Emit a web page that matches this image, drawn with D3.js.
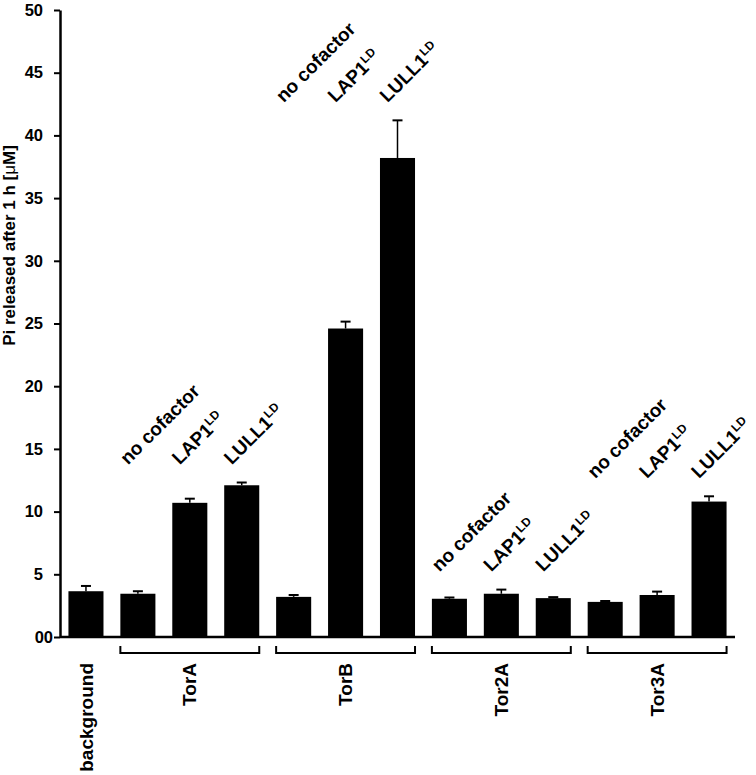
<!DOCTYPE html>
<html>
<head>
<meta charset="utf-8">
<script src="https://cdn.jsdelivr.net/npm/d3@7"></script>
<style>
  body { margin: 0; background: #fff; }
  svg text { font-family: Arial, "Liberation Sans", sans-serif; font-weight: bold; fill: #000; }
</style>
</head>
<body>
<svg id="chart" width="756" height="775"></svg>
<script>
// values
let barIds = ["bg", "TorA-0", "TorA-1", "TorA-2", "TorB-0", "TorB-1", "TorB-2",
              "Tor2A-0", "Tor2A-1", "Tor2A-2", "Tor3A-0", "Tor3A-1", "Tor3A-2"];
let means = [3.65, 3.45, 10.7, 12.1, 3.2, 24.6, 38.2, 3.05, 3.45, 3.1, 2.8, 3.35, 10.8];
let errs  = [0.42, 0.2, 0.33, 0.22, 0.15, 0.55, 3.0, 0.1, 0.33, 0.08, 0.07, 0.27, 0.42];
let groups = ["TorA", "TorB", "Tor2A", "Tor3A"];
let cofactors = ["no cofactor", "LAP1", "LULL1"];
let cofactorSup = ["", "LD", "LD"];
let yTicks = [0, 5, 10, 15, 20, 25, 30, 35, 40, 45, 50];
let yTitle = "Pi released after 1 h [";

let svg = d3.select("#chart");

let x = d3.scaleBand()
    .domain(barIds)
    .range([60, 735])
    .paddingInner(0.325)
    .paddingOuter(0.1625);

let y = d3.scaleLinear().domain([0, 50]).range([637, 10]);

// bars
svg.selectAll("rect.bar")
    .data(barIds)
    .enter().append("rect")
    .attr("class", "bar")
    .attr("x", d => x(d))
    .attr("width", x.bandwidth())
    .attr("y", (d, i) => y(means[i]))
    .attr("height", (d, i) => y(0) - y(means[i]))
    .attr("fill", "#000");

// error bars (upper only)
let eb = svg.selectAll("g.err")
    .data(barIds)
    .enter().append("g")
    .attr("class", "err")
    .attr("stroke", "#000");
eb.append("line")
    .attr("x1", d => x(d) + x.bandwidth() / 2)
    .attr("x2", d => x(d) + x.bandwidth() / 2)
    .attr("y1", (d, i) => y(means[i]))
    .attr("y2", (d, i) => y(means[i] + errs[i]))
    .attr("stroke-width", 1.5);
eb.append("line")
    .attr("x1", d => x(d) + x.bandwidth() / 2 - 5)
    .attr("x2", d => x(d) + x.bandwidth() / 2 + 5)
    .attr("y1", (d, i) => y(means[i] + errs[i]))
    .attr("y2", (d, i) => y(means[i] + errs[i]))
    .attr("stroke-width", 2);

// y axis
let yAxis = svg.append("g")
    .attr("transform", "translate(60,0)")
    .call(d3.axisLeft(y).tickValues(yTicks).tickSize(6).tickPadding(11).tickSizeOuter(0));
yAxis.select(".domain").attr("stroke-width", 2.5);
yAxis.selectAll(".tick line").attr("stroke-width", 2);
yAxis.selectAll(".tick text")
    .style("font-size", "16.5px")
    .attr("font-family", null);
yAxis.selectAll(".tick").filter(d => d === 0).select("text")
    .text("00").attr("dx", 10);

// x baseline
svg.append("line")
    .attr("x1", 60).attr("x2", 735)
    .attr("y1", y(0)).attr("y2", y(0))
    .attr("stroke", "#000").attr("stroke-width", 2.5);

// y title
let yt = svg.append("text")
    .attr("transform", `translate(15,${(y(50) + y(0)) / 2 - 78}) rotate(-90)`)
    .attr("text-anchor", "middle")
    .style("font-size", "17px")
    .text(yTitle);
yt.append("tspan").style("font-weight", "normal").text("\u03bc");
yt.append("tspan").text("M]");

// background label
svg.append("text")
    .attr("transform", `translate(${x("bg") + x.bandwidth() / 2},663) rotate(-90)`)
    .attr("text-anchor", "end")
    .attr("dy", "0.35em")
    .style("font-size", "19px")
    .text("background");

// group brackets, group labels, cofactor labels
groups.forEach(g => {
    let ids = cofactors.map((c, j) => g + "-" + j);
    let x0 = x(ids[0]), x1 = x(ids[2]) + x.bandwidth();
    let br = svg.append("path")
        .attr("d", `M${x0},646V653H${x1}V646`)
        .attr("fill", "none")
        .attr("stroke", "#000")
        .attr("stroke-width", 2);
    svg.append("text")
        .attr("transform", `translate(${(x0 + x1) / 2},663) rotate(-90)`)
        .attr("text-anchor", "end")
        .attr("dy", "0.35em")
        .style("font-size", "19px")
        .text(g);

    let top = d3.max(ids, id => {
        let i = barIds.indexOf(id);
        return means[i] + errs[i];
    });
    let ly = y(top) - 17;
    ids.forEach((id, j) => {
        let t = svg.append("text")
            .attr("transform", `translate(${x(id) + x.bandwidth() / 2 - 10},${ly}) rotate(-45)`)
            .style("font-size", "19px")
            .text(cofactors[j]);
        if (cofactorSup[j]) {
            t.append("tspan")
                .attr("dy", -7)
                .style("font-size", "12px")
                .text(cofactorSup[j]);
        }
    });
});
</script>
</body>
</html>
